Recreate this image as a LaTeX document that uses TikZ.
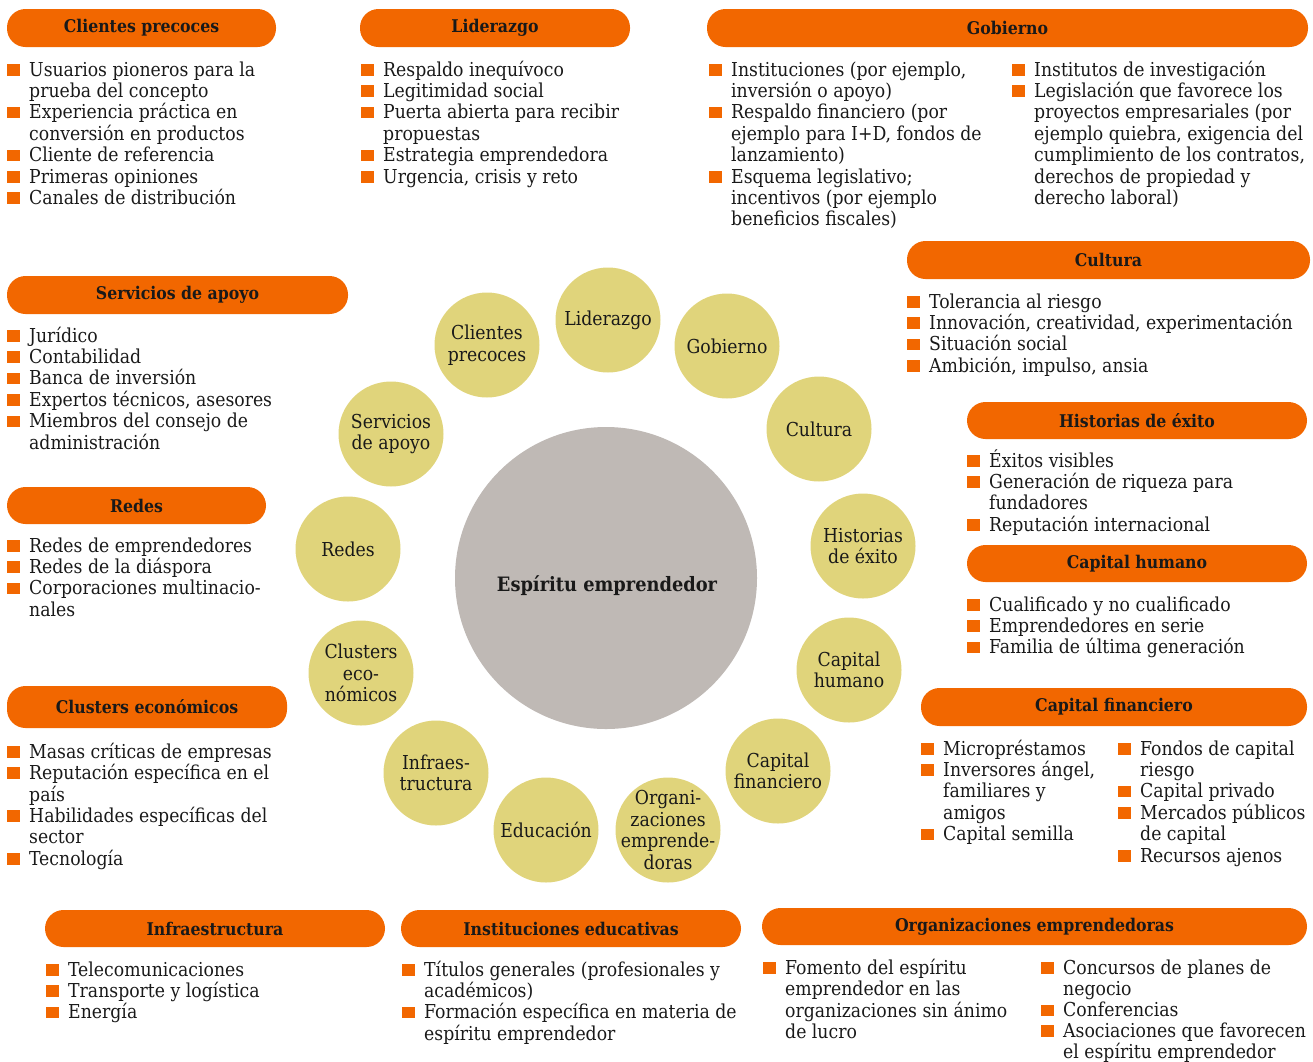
\documentclass[tikz,border=0pt]{standalone}
\usepackage{fontspec}
\setmainfont{DejaVu Serif Condensed}[BoldFont={DejaVu Serif Condensed Bold}]
\definecolor{orng}{RGB}{242,103,0}
\definecolor{ylw}{RGB}{224,212,123}
\definecolor{gry}{RGB}{191,185,181}
\definecolor{ink}{RGB}{25,25,25}
\newcommand\bodyfont{\fontsize{19.2}{21.4}\selectfont}
\tikzset{
  pill/.style={fill=orng, rounded corners=18.5pt, inner sep=0pt, text=ink,
    font=\fontsize{17.5}{20}\selectfont\bfseries},
  circ/.style={circle, fill=ylw, minimum size=105pt, inner sep=0pt},
  ctext/.style={inner sep=0pt, align=center, text=ink, font=\bodyfont},
  txt/.style={anchor=base west, inner sep=0pt, text=ink, font=\bodyfont},
  bsq/.style={fill=orng}
}
% name, x of bullet, baseline, text
\newcommand\bitem[4]{%
  \fill[bsq] (#2,#3-12) rectangle ++(12.5,11.5);
  \node[txt] (#1) at (#2+22,#3) {\begin{tabular}[t]{@{}l@{}}#4\end{tabular}};
}
% name, x1,y1,x2,y2, text
\newcommand\pillbox[6]{%
  \node[pill, minimum width={#4-#2}, minimum height={#5-#3}] (#1) at ({(#2+#4)/2},{(#3+#5)/2}) {#6};
}
% name, x, y, text
\newcommand\bubble[4]{%
  \node[circ] (#1) at (#2,#3) {};
  \node[ctext] (#1t) at (#1.center) {#4};
}
\begin{document}
\begin{tikzpicture}[x=1pt,y=-1pt]
\useasboundingbox (0,0) rectangle (1313,1061);

% ---- central circles ----
\node[circle, fill=gry, minimum size=302pt, inner sep=0pt] (core) at (606,578) {};
\node[text=ink, font=\fontsize{19.8}{23}\selectfont\bfseries, inner sep=0pt] (coretxt) at (607,586) {Espíritu emprendedor};

\bubble{cLid}{608}{320}{Liderazgo}
\bubble{cCli}{487}{345}{Clientes\\precoces}
\bubble{cGob}{727}{346}{Gobierno}
\bubble{cSer}{391}{434}{Servicios\\de apoyo}
\bubble{cCul}{819}{429}{Cultura}
\bubble{cRed}{348}{549}{Redes}
\bubble{cHis}{863}{546}{Historias\\de éxito}
\bubble{cClu}{361}{673}{Clusters\\eco-\\nómicos}
\bubble{cHum}{849}{670}{Capital\\humano}
\bubble{cInf}{436}{773}{Infraes-\\tructura}
\bubble{cFin}{778}{771}{Capital\\financiero}
\bubble{cEdu}{546}{830}{Educación}
\bubble{cOrg}{668}{830}{Organi-\\zaciones\\emprende-\\doras}

% ---- header pills ----
\pillbox{pCli}{7}{9}{276}{47}{Clientes precoces}
\pillbox{pLid}{360}{9}{630}{47}{Liderazgo}
\pillbox{pGob}{707}{9}{1308}{47}{Gobierno}
\pillbox{pCul}{907}{241}{1310}{279}{Cultura}
\pillbox{pSer}{7}{276}{348}{314}{Servicios de apoyo}
\pillbox{pHis}{967}{402}{1307}{439}{Historias de éxito}
\pillbox{pRed}{7}{487}{266}{524}{Redes}
\pillbox{pHum}{967}{545}{1307}{582}{Capital humano}
\pillbox{pClu}{7}{686}{287}{728}{Clusters económicos}
\pillbox{pFin}{921}{688}{1307}{726}{Capital financiero}
\pillbox{pInf}{45}{910}{385}{947}{Infraestructura}
\pillbox{pIns}{401}{910}{741}{947}{Instituciones educativas}
\pillbox{pOrg}{762}{908}{1307}{945}{Organizaciones emprendedoras}

% ---- lists ----
% Clientes precoces
\bitem{l11}{7}{76}{Usuarios pioneros para la\\prueba del concepto}
\bitem{l12}{7}{76+2*21.4}{Experiencia práctica en\\conversión en productos}
\bitem{l13}{7}{76+4*21.4}{Cliente de referencia}
\bitem{l14}{7}{76+5*21.4}{Primeras opiniones}
\bitem{l15}{7}{76+6*21.4}{Canales de distribución}
% Liderazgo
\bitem{l21}{361}{76}{Respaldo inequívoco}
\bitem{l22}{361}{76+1*21.4}{Legitimidad social}
\bitem{l23}{361}{76+2*21.4}{Puerta abierta para recibir\\propuestas}
\bitem{l24}{361}{76+4*21.4}{Estrategia emprendedora}
\bitem{l25}{361}{76+5*21.4}{Urgencia, crisis y reto}
% Gobierno
\bitem{l31}{709}{76}{Instituciones (por ejemplo,\\inversión o apoyo)}
\bitem{l32}{709}{76+2*21.4}{Respaldo financiero (por\\ejemplo para I+D, fondos de\\lanzamiento)}
\bitem{l33}{709}{76+5*21.4}{Esquema legislativo;\\incentivos (por ejemplo\\beneficios fiscales)}
\bitem{l34}{1012}{76}{Institutos de investigación}
\bitem{l35}{1012}{76+1*21.4}{Legislación que favorece los\\proyectos empresariales (por\\ejemplo quiebra, exigencia del\\cumplimiento de los contratos,\\derechos de propiedad y\\derecho laboral)}
% Cultura
\bitem{l41}{907}{308}{Tolerancia al riesgo}
\bitem{l42}{907}{308+1*21.4}{Innovación, creatividad, experimentación}
\bitem{l43}{907}{308+2*21.4}{Situación social}
\bitem{l44}{907}{308+3*21.4}{Ambición, impulso, ansia}
% Servicios de apoyo
\bitem{l51}{7}{342}{Jurídico}
\bitem{l52}{7}{342+1*21.4}{Contabilidad}
\bitem{l53}{7}{342+2*21.4}{Banca de inversión}
\bitem{l54}{7}{342+3*21.4}{Expertos técnicos, asesores}
\bitem{l55}{7}{342+4*21.4}{Miembros del consejo de\\administración}
% Historias de éxito
\bitem{l61}{967}{467}{Éxitos visibles}
\bitem{l62}{967}{467+1*21.4}{Generación de riqueza para\\fundadores}
\bitem{l63}{967}{467+3*21.4}{Reputación internacional}
% Redes
\bitem{l71}{7}{552}{Redes de emprendedores}
\bitem{l72}{7}{552+1*21.4}{Redes de la diáspora}
\bitem{l73}{7}{552+2*21.4}{Corporaciones multinacio-\\nales}
% Capital humano
\bitem{l81}{967}{611}{Cualificado y no cualificado}
\bitem{l82}{967}{611+1*21.4}{Emprendedores en serie}
\bitem{l83}{967}{611+2*21.4}{Familia de última generación}
% Clusters económicos
\bitem{l91}{7}{758}{Masas críticas de empresas}
\bitem{l92}{7}{758+1*21.4}{Reputación específica en el\\país}
\bitem{l93}{7}{758+3*21.4}{Habilidades específicas del\\sector}
\bitem{l94}{7}{758+5*21.4}{Tecnología}
% Capital financiero
\bitem{la1}{921}{755}{Micropréstamos}
\bitem{la2}{921}{755+1*21.4}{Inversores ángel,\\familiares y\\amigos}
\bitem{la3}{921}{755+4*21.4}{Capital semilla}
\bitem{la4}{1118}{755}{Fondos de capital\\riesgo}
\bitem{la5}{1118}{755+2*21.4}{Capital privado}
\bitem{la6}{1118}{755+3*21.4}{Mercados públicos\\de capital}
\bitem{la7}{1118}{755+5*21.4}{Recursos ajenos}
% Infraestructura
\bitem{lb1}{46}{976}{Telecomunicaciones}
\bitem{lb2}{46}{976+1*21.4}{Transporte y logística}
\bitem{lb3}{46}{976+2*21.4}{Energía}
% Instituciones educativas
\bitem{lc1}{402}{976}{Títulos generales (profesionales y\\académicos)}
\bitem{lc2}{402}{976+2*21.4}{Formación específica en materia de\\espíritu emprendedor}
% Organizaciones emprendedoras
\bitem{ld1}{763}{974}{Fomento del espíritu\\emprendedor en las\\organizaciones sin ánimo\\de lucro}
\bitem{ld2}{1041}{974}{Concursos de planes de\\negocio}
\bitem{ld3}{1041}{974+2*21.4}{Conferencias}
\bitem{ld4}{1041}{973+3*21.4}{Asociaciones que favorecen\\el espíritu emprendedor}
\end{tikzpicture}
\end{document}
